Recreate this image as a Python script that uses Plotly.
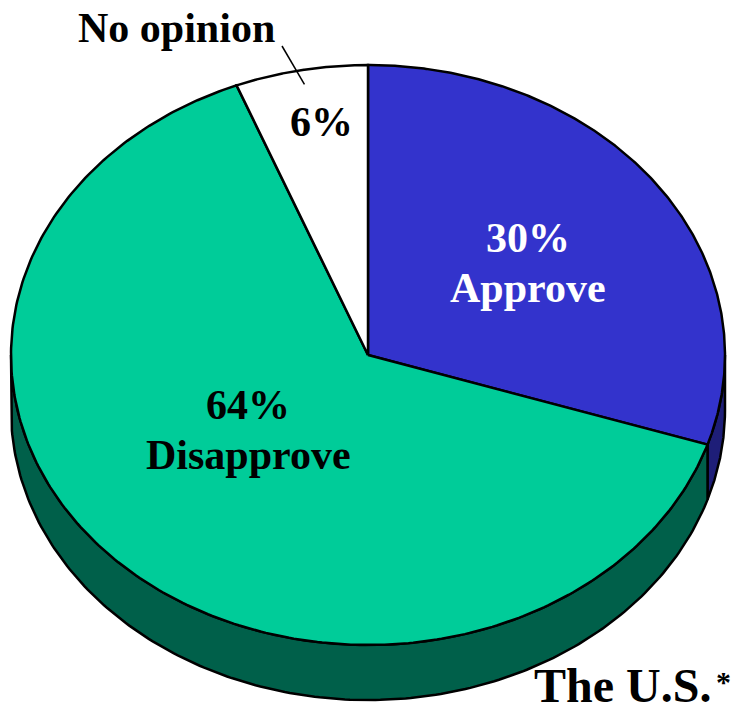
import numpy as np
import plotly.graph_objects as go

# Survey result
labels = ["Approve", "Disapprove", "No opinion"]
values = [30, 64, 6]
top_colors = ["#3333CC", "#00CC99", "#FFFFFF"]
side_colors = ["#1E1E78", "#00604A", "#B0B0B0"]
title_text = "The U.S."

# Geometry of the tilted pie (pixel units, y grows downward)
W, H = 732, 715
cx, cy = 368, 355
rx, ry = 357, 290
depth = 55
FONT = "Liberation Serif, Times New Roman, serif"


def rim(a_deg, dy=0.0):
    a = np.radians(a_deg)
    return cx + rx * np.sin(a), cy - ry * np.cos(a) + dy


total = sum(values)
bounds = np.concatenate([[0], np.cumsum(values) / total * 360.0])

fig = go.Figure()

# Visible side walls (front half: 90..270 degrees clockwise from 12 o'clock)
for i in range(len(values)):
    a0, a1 = max(bounds[i], 90.0), min(bounds[i + 1], 270.0)
    if a1 <= a0:
        continue
    t = np.linspace(a0, a1, 200)
    xt, yt = rim(t)
    xb, yb = rim(t[::-1], depth)
    xs = np.concatenate([xt, xb, xt[:1]])
    ys = np.concatenate([yt, yb, yt[:1]])
    fig.add_trace(go.Scatter(x=xs, y=ys, mode="lines", fill="toself",
                             fillcolor=side_colors[i],
                             line=dict(color="black", width=2.5),
                             hoverinfo="skip", showlegend=False))

# Top faces
for i in range(len(values)):
    t = np.linspace(bounds[i], bounds[i + 1], 300)
    xt, yt = rim(t)
    xs = np.concatenate([[cx], xt, [cx]])
    ys = np.concatenate([[cy], yt, [cy]])
    fig.add_trace(go.Scatter(x=xs, y=ys, mode="lines", fill="toself",
                             fillcolor=top_colors[i],
                             line=dict(color="black", width=2.5),
                             hoverinfo="text", text=f"{labels[i]}: {values[i]}%",
                             showlegend=False))

annotations = []


def label(x, y, text, color="black", size=42):
    annotations.append(dict(x=x, y=y, xref="x", yref="y", text=text,
                            showarrow=False, xanchor="center", yanchor="middle",
                            font=dict(family=FONT, size=size, color=color,
                                      weight="bold")))


# Approve
label(528, 238, f"{values[0]}%", color="white")
label(528, 288, labels[0], color="white")
# Disapprove
label(248, 405, f"{values[1]}%")
label(248, 455, labels[1])
# No opinion: value inside, name outside with a leader line
label(321, 122, f"{values[2]}%")
label(176, 28, labels[2])
mid = (bounds[2] + bounds[3]) / 2
ax_end = cx + 0.95 * rx * np.sin(np.radians(mid))
ay_end = cy - 0.95 * ry * np.cos(np.radians(mid))
fig.add_shape(type="line", x0=282, y0=46, x1=ax_end, y1=ay_end,
              xref="x", yref="y", line=dict(color="black", width=1.5))

# Footer
annotations.append(dict(x=713, y=714, xref="x", yref="y", text=title_text,
                        showarrow=False, xanchor="right", yanchor="bottom",
                        font=dict(family=FONT, size=48, color="black",
                                  weight="bold")))
annotations.append(dict(x=714, y=681, xref="x", yref="y", text="*",
                        showarrow=False, xanchor="left", yanchor="middle",
                        font=dict(family=FONT, size=30, color="black",
                                  weight="bold")))

fig.update_layout(
    width=W, height=H,
    margin=dict(l=0, r=0, t=0, b=0),
    paper_bgcolor="white", plot_bgcolor="white",
    xaxis=dict(range=[0, W], visible=False, fixedrange=True),
    yaxis=dict(range=[H, 0], visible=False, fixedrange=True),
    annotations=annotations,
    showlegend=False,
)

fig.write_html("out.html")
